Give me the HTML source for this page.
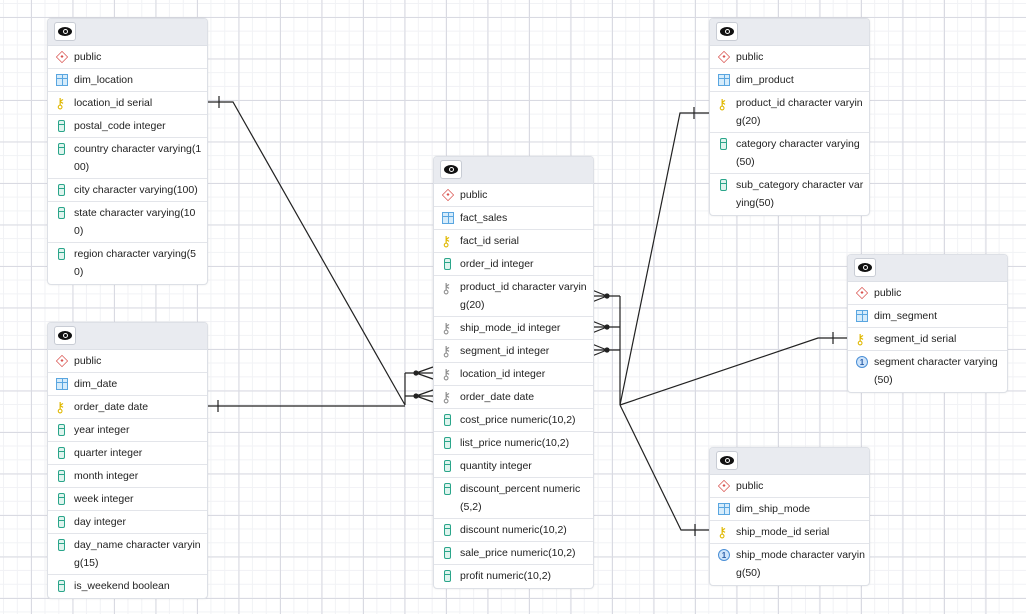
<!DOCTYPE html>
<html><head><meta charset="utf-8"><style>
html,body{margin:0;padding:0}
body{width:1026px;height:614px;position:relative;overflow:hidden;background:#fff;
background-image:
linear-gradient(#d9dae2 1px,transparent 1px),linear-gradient(90deg,#d9dae2 1px,transparent 1px),
linear-gradient(#f1f2f5 1px,transparent 1px),linear-gradient(90deg,#f1f2f5 1px,transparent 1px);
background-size:41.5px 41.5px,41.5px 41.5px,13.83px 13.83px,13.83px 13.83px;
background-position:0 17px,31px 0,0 3px,3px 0;
font-family:"Liberation Sans",sans-serif;font-size:10.5px;color:#222}
.t{position:absolute;width:159px;background:#fff;border:1px solid #dde0e6;border-radius:4px;box-shadow:0 0 2px rgba(0,0,0,.08);overflow:hidden}
.h{height:27px;box-sizing:border-box;background:#e9ebf0;position:relative;border-bottom:1px solid #dde0e6}
.eye{position:absolute;left:6px;top:3px;width:22px;height:19px;box-sizing:border-box;background:#fff;border:1px solid #c8ccd4;border-radius:3px}
.eye:before{content:"";position:absolute;left:3px;top:4px;width:14px;height:9px;background:#111;border-radius:50%}
.eye:after{content:"";position:absolute;left:7.5px;top:6px;width:3px;height:3px;border:1.5px solid #fff;border-radius:50%;background:#111}
.r{height:23px;box-sizing:border-box;border-bottom:1px solid #e3e5ea;position:relative;line-height:22px;padding:0 0 0 26px;white-space:nowrap}
.r2{height:41px;line-height:18px;padding-top:2px}
.r:last-child{border-bottom:none}
.i{position:absolute;left:8px;top:5px;width:12px;height:12px}
.r2 .i{top:5px}
.d{border:1.5px solid #d9534f;transform:rotate(45deg) scale(.72);box-sizing:border-box}
.d:after{content:"";position:absolute;left:3px;top:3px;width:3px;height:3px;background:#d9534f}
.tb{border:1px solid #5aa6e0;background:linear-gradient(#5aa6e0,#5aa6e0) 0 3px/100% 1px no-repeat,linear-gradient(#5aa6e0,#5aa6e0) 5px 0/1px 100% no-repeat,#d6ecfb;box-sizing:border-box}
.c{width:7px;left:10px;border:1.5px solid #2aa58a;border-radius:2px;box-sizing:border-box;background:linear-gradient(#2aa58a,#2aa58a) 0 3px/100% 1px no-repeat,#dff4ee}
.k{color:#e0b800;font-size:14px;left:7px;top:4px;width:auto;height:auto;line-height:14px}
.kg{color:#8e8e8e}
.n{border:1px solid #4a8fd6;border-radius:50%;background:#cfe4fa;color:#2a5ea8;font-size:8px;line-height:11px;text-align:center;font-weight:bold;box-sizing:border-box}
svg{position:absolute;left:0;top:0}
</style></head><body>
<svg width="1026" height="614" stroke="#222" stroke-width="1.2" fill="none">
<path d="M206 102H233L405 405M405 373V405M206 406H405"/>
<path d="M219 96V108M218 400V412"/>
<path d="M405 373H416M405 396H416M416 373L433 367M416 373L433 379M416 373H433M416 396L433 390M416 396L433 402M416 396H433"/>
<path d="M620 296V405M607 296H620M607 327H620M607 350H620"/>
<path d="M607 296L592 290M607 296L592 302M607 296H592M607 327L592 321M607 327L592 333M607 327H592M607 350L592 344M607 350L592 356M607 350H592"/>
<path d="M620 405L680 113H709M694 107V119M620 405L818 338H847M833 332V344M620 405L681 530H709M695 524V536"/>
<g fill="#222" stroke="none"><circle cx="416" cy="373" r="2.6"/><circle cx="416" cy="396" r="2.6"/><circle cx="607" cy="296" r="2.6"/><circle cx="607" cy="327" r="2.6"/><circle cx="607" cy="350" r="2.6"/></g>
</svg>

<div class="t" style="left:47px;top:18px">
<div class="h"><div class="eye"></div></div>
<div class="r"><span class="i d"></span>public</div>
<div class="r"><span class="i tb"></span>dim_location</div>
<div class="r"><span class="i k">&#x26B7;</span>location_id serial</div>
<div class="r"><span class="i c"></span>postal_code integer</div>
<div class="r r2"><span class="i c"></span>country character varying(1<br>00)</div>
<div class="r"><span class="i c"></span>city character varying(100)</div>
<div class="r r2"><span class="i c"></span>state character varying(10<br>0)</div>
<div class="r r2"><span class="i c"></span>region character varying(5<br>0)</div>
</div>

<div class="t" style="left:47px;top:322px">
<div class="h"><div class="eye"></div></div>
<div class="r"><span class="i d"></span>public</div>
<div class="r"><span class="i tb"></span>dim_date</div>
<div class="r"><span class="i k">&#x26B7;</span>order_date date</div>
<div class="r"><span class="i c"></span>year integer</div>
<div class="r"><span class="i c"></span>quarter integer</div>
<div class="r"><span class="i c"></span>month integer</div>
<div class="r"><span class="i c"></span>week integer</div>
<div class="r"><span class="i c"></span>day integer</div>
<div class="r r2"><span class="i c"></span>day_name character varyin<br>g(15)</div>
<div class="r"><span class="i c"></span>is_weekend boolean</div>
</div>

<div class="t" style="left:433px;top:156px">
<div class="h"><div class="eye"></div></div>
<div class="r"><span class="i d"></span>public</div>
<div class="r"><span class="i tb"></span>fact_sales</div>
<div class="r"><span class="i k">&#x26B7;</span>fact_id serial</div>
<div class="r"><span class="i c"></span>order_id integer</div>
<div class="r r2"><span class="i k kg">&#x26B7;</span>product_id character varyin<br>g(20)</div>
<div class="r"><span class="i k kg">&#x26B7;</span>ship_mode_id integer</div>
<div class="r"><span class="i k kg">&#x26B7;</span>segment_id integer</div>
<div class="r"><span class="i k kg">&#x26B7;</span>location_id integer</div>
<div class="r"><span class="i k kg">&#x26B7;</span>order_date date</div>
<div class="r"><span class="i c"></span>cost_price numeric(10,2)</div>
<div class="r"><span class="i c"></span>list_price numeric(10,2)</div>
<div class="r"><span class="i c"></span>quantity integer</div>
<div class="r r2"><span class="i c"></span>discount_percent numeric<br>(5,2)</div>
<div class="r"><span class="i c"></span>discount numeric(10,2)</div>
<div class="r"><span class="i c"></span>sale_price numeric(10,2)</div>
<div class="r"><span class="i c"></span>profit numeric(10,2)</div>
</div>

<div class="t" style="left:709px;top:18px">
<div class="h"><div class="eye"></div></div>
<div class="r"><span class="i d"></span>public</div>
<div class="r"><span class="i tb"></span>dim_product</div>
<div class="r r2"><span class="i k">&#x26B7;</span>product_id character varyin<br>g(20)</div>
<div class="r r2"><span class="i c"></span>category character varying<br>(50)</div>
<div class="r r2"><span class="i c"></span>sub_category character var<br>ying(50)</div>
</div>

<div class="t" style="left:847px;top:254px">
<div class="h"><div class="eye"></div></div>
<div class="r"><span class="i d"></span>public</div>
<div class="r"><span class="i tb"></span>dim_segment</div>
<div class="r"><span class="i k">&#x26B7;</span>segment_id serial</div>
<div class="r r2"><span class="i n">1</span>segment character varying<br>(50)</div>
</div>

<div class="t" style="left:709px;top:447px">
<div class="h"><div class="eye"></div></div>
<div class="r"><span class="i d"></span>public</div>
<div class="r"><span class="i tb"></span>dim_ship_mode</div>
<div class="r"><span class="i k">&#x26B7;</span>ship_mode_id serial</div>
<div class="r r2"><span class="i n">1</span>ship_mode character varyin<br>g(50)</div>
</div>
</body></html>
